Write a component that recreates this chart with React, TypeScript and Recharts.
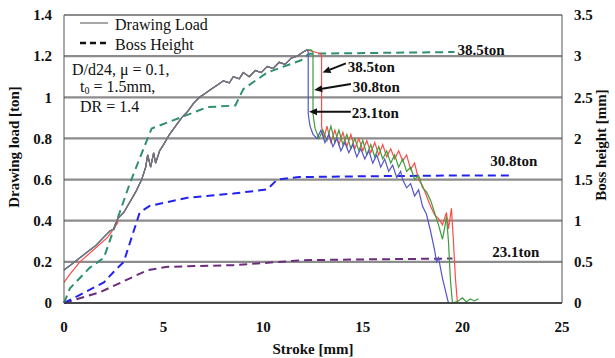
import React from "react";
import {
  LineChart,
  Line,
  XAxis,
  YAxis,
  CartesianGrid,
  ReferenceLine,
  ReferenceDot,
} from "recharts";

type Pt = [number, number];

const SERIF = "'Liberation Serif', 'DejaVu Serif', 'Times New Roman', serif";

const X_TICKS = [0, 5, 10, 15, 20, 25];
const LOAD_TICKS = [0, 0.2, 0.4, 0.6, 0.8, 1, 1.2, 1.4];
const HEIGHT_TICKS = [0, 0.5, 1, 1.5, 2, 2.5, 3, 3.5];

// drawing load [ton], rising part shared by all three runs
const loadRise: Pt[] = [
  [0, 0.16], [0.4, 0.19], [0.8, 0.22], [1.2, 0.25], [1.6, 0.28], [2.0, 0.32],
  [2.3, 0.35], [2.5, 0.36], [2.7, 0.41], [3.0, 0.44], [3.3, 0.49], [3.6, 0.54],
  [3.9, 0.6], [4.1, 0.66], [4.2, 0.72], [4.35, 0.66], [4.5, 0.73], [4.6, 0.68],
  [4.8, 0.74], [5.0, 0.77], [5.3, 0.82], [5.6, 0.86], [5.9, 0.9], [6.2, 0.93],
  [6.5, 0.97], [6.8, 1.0], [7.1, 1.02], [7.4, 1.04], [7.7, 1.06], [8.0, 1.08],
  [8.3, 1.07], [8.5, 1.1], [8.8, 1.09], [9.0, 1.12], [9.3, 1.1], [9.6, 1.13],
  [9.9, 1.12], [10.2, 1.15], [10.5, 1.14], [10.8, 1.17], [11.1, 1.16],
  [11.4, 1.19], [11.7, 1.2], [12.0, 1.22], [12.2, 1.23],
];

const redStart: Pt[] = [
  [0, 0.1], [0.3, 0.14], [0.8, 0.2], [1.5, 0.26], [2.2, 0.32], [2.7, 0.39],
];

const blueFall: Pt[] = [
  [12.26, 1.22], [12.26, 0.92], [12.35, 0.86], [12.5, 0.82], [12.7, 0.8],
  [12.9, 0.84], [13.1, 0.78], [13.3, 0.82], [13.5, 0.76], [13.7, 0.8],
  [13.9, 0.74], [14.1, 0.78], [14.3, 0.73], [14.5, 0.77], [14.7, 0.71],
  [14.9, 0.75], [15.1, 0.7], [15.3, 0.74], [15.5, 0.68], [15.7, 0.72],
  [15.9, 0.66], [16.1, 0.7], [16.3, 0.64], [16.5, 0.67], [16.7, 0.61],
  [16.9, 0.64], [17.0, 0.6], [17.2, 0.56], [17.4, 0.58], [17.6, 0.52],
  [17.8, 0.55], [18.0, 0.47], [18.2, 0.43], [18.4, 0.35], [18.6, 0.26],
  [18.7, 0.2], [18.8, 0.22], [19.0, 0.12], [19.2, 0.04], [19.3, 0],
];

const greenFall: Pt[] = [
  [12.4, 1.23], [12.5, 1.22], [12.5, 0.92], [12.6, 0.85], [12.8, 0.8],
  [13.0, 0.84], [13.2, 0.79], [13.4, 0.86], [13.6, 0.78], [13.8, 0.84],
  [14.0, 0.77], [14.2, 0.82], [14.4, 0.75], [14.6, 0.8], [14.8, 0.74],
  [15.0, 0.79], [15.2, 0.72], [15.4, 0.77], [15.6, 0.71], [15.8, 0.76],
  [16.0, 0.7], [16.2, 0.74], [16.4, 0.68], [16.6, 0.72], [16.8, 0.66],
  [17.0, 0.7], [17.2, 0.64], [17.4, 0.66], [17.6, 0.6], [17.8, 0.62],
  [18.0, 0.56], [18.2, 0.54], [18.4, 0.5], [18.6, 0.44], [18.8, 0.38],
  [19.0, 0.31], [19.1, 0.36], [19.2, 0.42], [19.3, 0.3], [19.4, 0.11],
  [19.5, 0], [19.8, 0.01], [20.0, 0.025], [20.2, 0.005], [20.4, 0.02],
  [20.6, 0.01], [20.8, 0.02],
];

const redFall: Pt[] = [
  [12.6, 1.22], [12.93, 1.21], [12.93, 0.86], [13.05, 0.8], [13.2, 0.86],
  [13.4, 0.78], [13.6, 0.84], [13.8, 0.77], [14.0, 0.83], [14.2, 0.76],
  [14.4, 0.82], [14.6, 0.75], [14.8, 0.8], [15.0, 0.74], [15.2, 0.79],
  [15.4, 0.73], [15.6, 0.78], [15.8, 0.72], [16.0, 0.77], [16.2, 0.71],
  [16.4, 0.75], [16.6, 0.7], [16.8, 0.74], [17.0, 0.69], [17.2, 0.72],
  [17.4, 0.65], [17.6, 0.68], [17.8, 0.6], [18.0, 0.57], [18.2, 0.52],
  [18.4, 0.47], [18.6, 0.43], [18.8, 0.41], [19.0, 0.38], [19.2, 0.44],
  [19.3, 0.36], [19.45, 0.46], [19.55, 0.3], [19.65, 0.12], [19.75, 0],
];

// boss height [mm]
const boss385: Pt[] = [
  [0, 0], [0.3, 0.18], [1.3, 0.43], [2.0, 0.55], [2.65, 1.0], [3.3, 1.45],
  [4.0, 1.88], [4.4, 2.12], [5.8, 2.25], [7.2, 2.38], [8.6, 2.4], [9.0, 2.6],
  [10.2, 2.8], [11.9, 2.95], [12.3, 3.03], [19.6, 3.05],
];

const boss308: Pt[] = [
  [0, 0], [0.8, 0.1], [2.0, 0.25], [2.5, 0.38], [3.0, 0.5], [3.8, 1.1],
  [4.3, 1.18], [6.2, 1.28], [8.5, 1.33], [10.2, 1.38], [10.7, 1.5],
  [11.8, 1.53], [15, 1.54], [20, 1.55], [22.4, 1.55],
];

const boss231: Pt[] = [
  [0, 0], [1.8, 0.13], [4.2, 0.4], [5.2, 0.44], [8.5, 0.46], [12, 0.52],
  [15, 0.53], [19.5, 0.54],
];

const toPoints = (pts: Pt[]) => pts.map(([x, y]) => ({ x, y }));

const blueLoad = toPoints([...loadRise, ...blueFall]);
const greenLoad = toPoints([...loadRise, ...greenFall]);
const redLoad = toPoints([...redStart, ...loadRise.slice(8), ...redFall]);
const grayLoad = toPoints(loadRise);

const tickStyle = {
  fill: "#111",
  fontSize: 15,
  fontWeight: "bold",
  fontFamily: SERIF,
};

const Arrow = (p: any) => {
  const { x1, y1, x2, y2 } = p;
  const a = Math.atan2(y2 - y1, x2 - x1);
  const L = 8;
  const W = 3.5;
  const bx = x2 - L * Math.cos(a);
  const by = y2 - L * Math.sin(a);
  const nx = -Math.sin(a) * W;
  const ny = Math.cos(a) * W;
  return (
    <g>
      <line x1={x1} y1={y1} x2={bx} y2={by} stroke="#111" strokeWidth={2} />
      <polygon
        points={`${x2},${y2} ${bx + nx},${by + ny} ${bx - nx},${by - ny}`}
        fill="#111"
      />
    </g>
  );
};

const note = (text: string) => (p: any) => (
  <text
    x={p.cx}
    y={p.cy}
    fontFamily={SERIF}
    fontSize={15}
    fontWeight="bold"
    fill="#111"
  >
    {text}
  </text>
);

// legend and test conditions, laid over the top-left of the plot
const LegendBox = () => (
  <svg
    width={200}
    height={110}
    style={{ position: "absolute", left: 70, top: 14 }}
  >
    <line x1={10} y1={9} x2={38} y2={9} stroke="#888" strokeWidth={1.5} />
    <text x={45} y={16} fontFamily={SERIF} fontSize={16} fill="#111">
      Drawing Load
    </text>
    <line
      x1={10}
      y1={29}
      x2={38}
      y2={29}
      stroke="#111"
      strokeWidth={2.5}
      strokeDasharray="6 4"
    />
    <text x={45} y={36} fontFamily={SERIF} fontSize={16} fill="#111">
      Boss Height
    </text>
    <text x={2} y={61} fontFamily={SERIF} fontSize={16} fill="#111">
      D/d24,  μ = 0.1,
    </text>
    <text x={10} y={78} fontFamily={SERIF} fontSize={16} fill="#111">
      t<tspan fontSize={10} dy={2}>0</tspan>
      <tspan dy={-2}>  = 1.5mm,</tspan>
    </text>
    <text x={10} y={98} fontFamily={SERIF} fontSize={16} fill="#111">
      DR = 1.4
    </text>
  </svg>
);

const LeftLabel = ({ viewBox }: any) => {
  const x = viewBox.x + 14;
  const y = viewBox.y + viewBox.height / 2 - 12;
  return (
    <text
      x={x}
      y={y}
      transform={`rotate(-90, ${x}, ${y})`}
      textAnchor="middle"
      dominantBaseline="central"
      fontFamily={SERIF}
      fontSize={15}
      fontWeight="bold"
      fill="#111"
    >
      Drawing load  [ton]
    </text>
  );
};

const RightLabel = ({ viewBox }: any) => {
  const x = viewBox.x + viewBox.width - 14;
  const y = viewBox.y + viewBox.height / 2 - 14;
  return (
    <text
      x={x}
      y={y}
      transform={`rotate(-90, ${x}, ${y})`}
      textAnchor="middle"
      dominantBaseline="central"
      fontFamily={SERIF}
      fontSize={15}
      fontWeight="bold"
      fill="#111"
    >
      Boss height  [mm]
    </text>
  );
};

export default function App() {
  return (
    <div
      style={{ position: "relative", width: 615, height: 358, background: "#fff" }}
    >
      <style>{`body { margin: 0; } svg text { font-family: ${SERIF}; }`}</style>
      <LineChart
        width={615}
        height={358}
        margin={{ top: 15, right: 0, bottom: 0, left: 0 }}
      >
        <CartesianGrid
          yAxisId="left"
          vertical={false}
          stroke="#8c8c8c"
          strokeWidth={2.2}
        />
        <XAxis
          type="number"
          dataKey="x"
          domain={[0, 25]}
          ticks={X_TICKS}
          height={55}
          tick={tickStyle}
          tickLine={false}
          tickMargin={12}
          axisLine={{ stroke: "#333", strokeWidth: 1.5 }}
          label={{
            value: "Stroke  [mm]",
            position: "insideBottom",
            offset: 4,
            style: tickStyle,
          }}
        />
        <YAxis
          yAxisId="left"
          type="number"
          domain={[0, 1.4]}
          ticks={LOAD_TICKS}
          width={64}
          tick={tickStyle}
          tickLine={false}
          tickMargin={6}
          axisLine={{ stroke: "#555" }}
          label={<LeftLabel />}
        />
        <YAxis
          yAxisId="right"
          orientation="right"
          type="number"
          domain={[0, 3.5]}
          ticks={HEIGHT_TICKS}
          width={53}
          tick={tickStyle}
          tickLine={false}
          tickMargin={6}
          axisLine={{ stroke: "#555" }}
          label={<RightLabel />}
        />

        <Line
          yAxisId="right"
          data={toPoints(boss231)}
          dataKey="y"
          stroke="#6e2c7c"
          strokeWidth={2}
          strokeDasharray="8 5"
          dot={false}
          isAnimationActive={false}
        />
        <Line
          yAxisId="right"
          data={toPoints(boss308)}
          dataKey="y"
          stroke="#2323f0"
          strokeWidth={2}
          strokeDasharray="8 5"
          dot={false}
          isAnimationActive={false}
        />
        <Line
          yAxisId="right"
          data={toPoints(boss385)}
          dataKey="y"
          stroke="#2f8f6e"
          strokeWidth={2}
          strokeDasharray="8 5"
          dot={false}
          isAnimationActive={false}
        />

        <Line
          yAxisId="left"
          data={redLoad}
          dataKey="y"
          stroke="#ff4a4a"
          strokeWidth={1.2}
          dot={false}
          isAnimationActive={false}
        />
        <Line
          yAxisId="left"
          data={greenLoad}
          dataKey="y"
          stroke="#3a9e3a"
          strokeWidth={1.2}
          dot={false}
          isAnimationActive={false}
        />
        <Line
          yAxisId="left"
          data={blueLoad}
          dataKey="y"
          stroke="#5555c8"
          strokeWidth={1.2}
          dot={false}
          isAnimationActive={false}
        />
        <Line
          yAxisId="left"
          data={grayLoad}
          dataKey="y"
          stroke="#777"
          strokeWidth={1.2}
          dot={false}
          isAnimationActive={false}
        />

        {/* press force callouts */}
        <ReferenceLine
          yAxisId="left"
          segment={[{ x: 14.15, y: 1.165 }, { x: 12.98, y: 1.12 }]}
          shape={Arrow}
        />
        <ReferenceLine
          yAxisId="left"
          segment={[{ x: 14.4, y: 1.065 }, { x: 12.56, y: 1.035 }]}
          shape={Arrow}
        />
        <ReferenceLine
          yAxisId="left"
          segment={[{ x: 14.4, y: 0.93 }, { x: 12.3, y: 0.93 }]}
          shape={Arrow}
        />
        <ReferenceDot yAxisId="left" x={14.25} y={1.123} shape={note("38.5ton")} />
        <ReferenceDot yAxisId="left" x={14.5} y={1.026} shape={note("30.8ton")} />
        <ReferenceDot yAxisId="left" x={14.45} y={0.9} shape={note("23.1ton")} />

        <ReferenceDot yAxisId="right" x={19.75} y={3.01} shape={note("38.5ton")} />
        <ReferenceDot yAxisId="right" x={21.4} y={1.66} shape={note("30.8ton")} />
        <ReferenceDot yAxisId="right" x={21.5} y={0.56} shape={note("23.1ton")} />
      </LineChart>
      <LegendBox />
    </div>
  );
}
